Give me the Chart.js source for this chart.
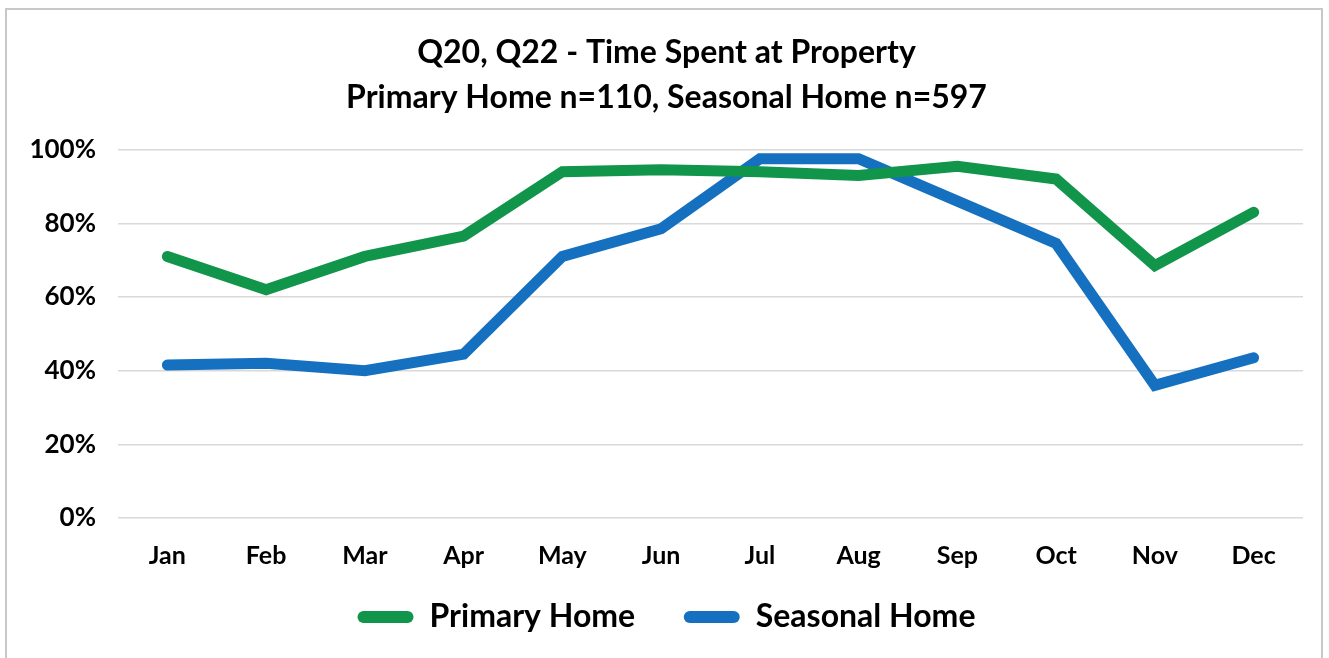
<!DOCTYPE html>
<html>
<head>
<meta charset="utf-8">
<script src="https://cdn.jsdelivr.net/npm/chart.js@4.4.0/dist/chart.umd.min.js"></script>
<style>
  html, body { margin: 0; padding: 0; background: #fff; overflow: hidden; }
  #wrap {
    position: absolute; left: 5px; top: 8px;
    width: 1318px; height: 680px;
    border: 2px solid #c8c8c8; box-sizing: border-box;
  }
  #myChart { position: absolute; left: 0; top: 0; }
</style>
</head>
<body>
<div id="wrap"><canvas id="myChart" width="1314" height="633"></canvas></div>
<script>
// data
const months = ['Jan', 'Feb', 'Mar', 'Apr', 'May', 'Jun', 'Jul', 'Aug', 'Sep', 'Oct', 'Nov', 'Dec'];
const primaryHome = [71, 62, 71, 76.5, 94, 94.5, 94, 93, 95.5, 92, 68.5, 83];
const seasonalHome = [41.5, 42, 40, 44.5, 71, 78.5, 97.5, 97.5, 86, 74.5, 36, 43.5];
const yTicks = [0, 20, 40, 60, 80, 100];
const titleLines = ['Q20, Q22 - Time Spent at Property', 'Primary Home n=110, Seasonal Home n=597'];

const FONT = 'Lato, "Open Sans", sans-serif';

const ctx = document.getElementById('myChart').getContext('2d');
const myChart = new Chart(ctx, {
    type: 'line',
    data: {
        labels: months,
        datasets: [{
            label: 'Primary Home',
            data: primaryHome,
            borderColor: '#10954a',
            backgroundColor: '#10954a',
            borderWidth: 11,
            pointRadius: 0,
            borderCapStyle: 'round'
        }, {
            label: 'Seasonal Home',
            data: seasonalHome,
            borderColor: '#1571c0',
            backgroundColor: '#1571c0',
            borderWidth: 11,
            pointRadius: 0,
            borderCapStyle: 'round'
        }]
    },
    options: {
        responsive: false,
        animation: false,
        layout: { padding: { top: 20, left: 23, right: 18, bottom: 0 } },
        plugins: {
            tooltip: { enabled: false },
            title: {
                display: true,
                text: titleLines,
                color: '#000',
                font: { family: FONT, size: 32, weight: 'bold', lineHeight: 1.4 },
                padding: { top: 0, bottom: 30 }
            },
            legend: {
                position: 'bottom',
                labels: {
                    color: '#000',
                    font: { family: FONT, size: 32, weight: 'bold' },
                    boxWidth: 56,
                    boxHeight: 12,
                    useBorderRadius: true,
                    borderRadius: 6,
                    padding: 33,
                    generateLabels: (chart) => {
                        const items = Chart.defaults.plugins.legend.labels.generateLabels(chart);
                        items.forEach(i => { i.lineWidth = 0; });
                        // a little extra room between the two entries
                        items[0].text += '  ';
                        return items;
                    }
                }
            }
        },
        scales: {
            x: {
                offset: true,
                grid: { display: false, drawTicks: false },
                border: { display: false },
                ticks: {
                    color: '#000',
                    padding: 23,
                    font: { family: FONT, size: 25, weight: 'bold' }
                },
                afterFit: (axis) => { axis.height = 50; }
            },
            y: {
                min: 0,
                max: 100,
                afterBuildTicks: (axis) => { axis.ticks = yTicks.map(v => ({ value: v })); },
                afterFit: (axis) => { axis.width = 88; },
                grid: { color: '#d9d9d9', lineWidth: 1.5, drawTicks: false },
                border: { display: false },
                ticks: {
                    color: '#000',
                    padding: 22,
                    font: { family: FONT, size: 26, weight: 'bold' },
                    callback: (v) => v + '%'
                }
            }
        }
    }
});
</script>
</body>
</html>
